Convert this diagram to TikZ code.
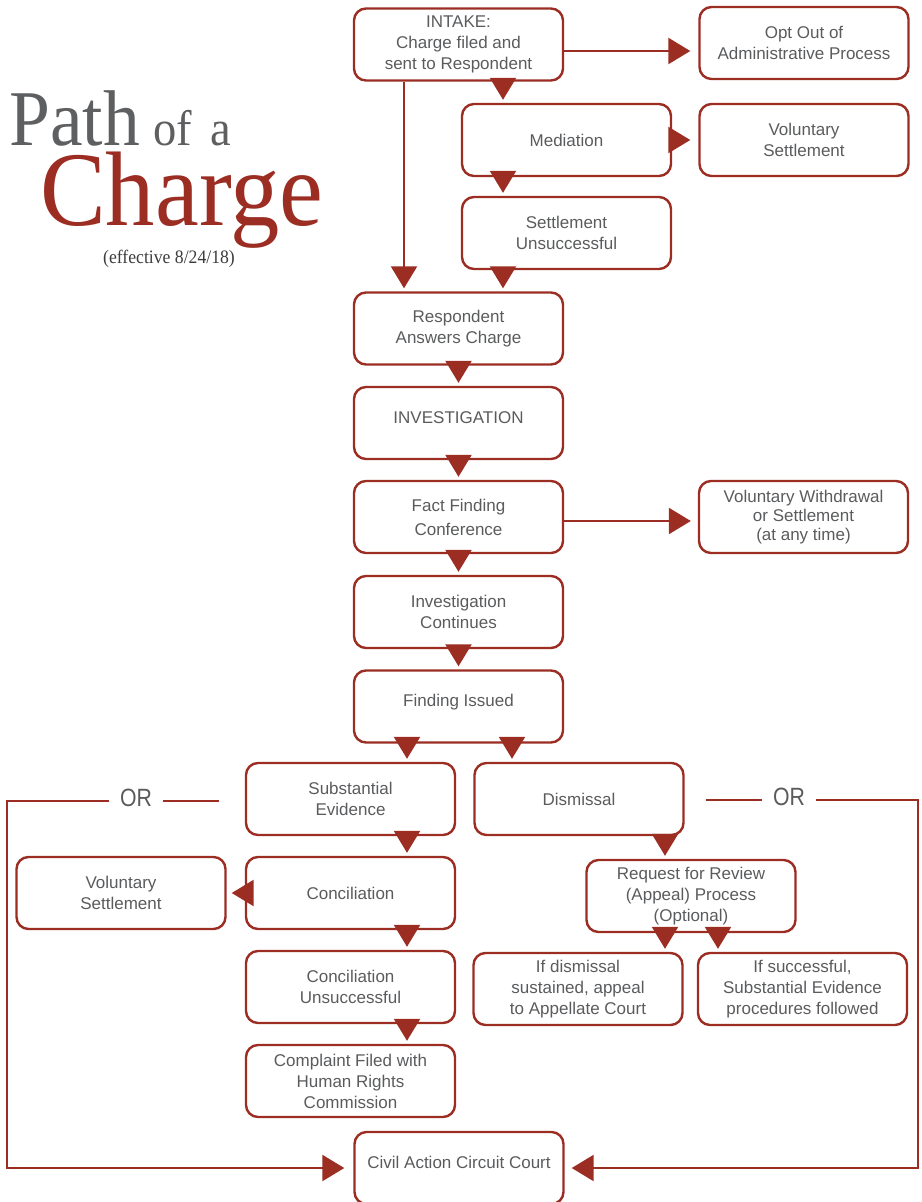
\documentclass[tikz,border=0pt]{standalone}
\usepackage{fontspec}
\setmainfont{Liberation Sans}
\newfontfamily\titlefont{Liberation Serif}[FakeStretch=0.93]
\newfontfamily\orfont{Liberation Sans}[FakeStretch=0.85]
\usetikzlibrary{arrows.meta}
\definecolor{cred}{HTML}{9B2D23}
\definecolor{cgray}{HTML}{5A5B5D}
\definecolor{tgray}{HTML}{5E5F61}
\definecolor{dgray}{HTML}{3C3C3C}
\begin{document}
\begin{tikzpicture}[x=1pt,y=-1pt,
  box/.style={draw=cred, line width=2.4pt, rounded corners=12pt, minimum width=209pt, minimum height=72pt, inner sep=0pt, align=center, text=cgray, font=\fontsize{17}{21}\selectfont},
  arr/.style={draw=cred, line width=2.4pt, -{Triangle[length=22pt,width=26pt]}, shorten >=3pt},
  ln/.style={draw=cred, line width=2.4pt},
  hi/.style={text height=12pt, text depth=12pt},
  ortext/.style={text=cgray, font=\orfont\fontsize{25}{25}\selectfont, inner xsep=11pt, inner ysep=0pt},
  ttl/.style={anchor=base west, inner sep=0pt}]
\useasboundingbox (0,0) rectangle (921,1202);

% title
\node[ttl, text=tgray, text depth=0pt, font=\titlefont\fontsize{79}{79}\selectfont] (path) at (9,145) {Path};
\node[ttl, text=tgray, text depth=0pt, font=\titlefont\fontsize{50}{50}\selectfont] (ofa) at (153,145) {of\hspace{19pt}a};
\node[ttl, text=cred, text height=74pt, font=\titlefont\fontsize{106}{106}\selectfont] (charge) at (40,225) {Charge};
\node[anchor=base, inner sep=0pt, text=dgray, font=\titlefont\fontsize{19}{19}\selectfont] (eff) at (169,263) {(effective 8/24/18)};

% boxes
\node[box] (intake) at (458.5,44.5) {INTAKE:\\Charge filed and\\sent to Respondent};
\node[box] (optout) at (804,43) {Opt Out of\\Administrative Process};
\node[box] (mediation) at (566.5,140) {Mediation};
\node[box] (volset1) at (804,140) {Voluntary\\Settlement};
\node[box] (setunsucc) at (566.5,233) {Settlement\\Unsuccessful};
\node[box] (respond) at (458.5,328.5) {Respondent\\Answers Charge};
\node[box,hi] (invest) at (458.5,423) {INVESTIGATION};
\node[box,font=\fontsize{17}{24}\selectfont] (fact) at (458.5,517) {Fact Finding\\Conference};
\node[box,font=\fontsize{17}{19}\selectfont] (volwith) at (803.5,517) {Voluntary Withdrawal\\or Settlement\\(at any time)};
\node[box] (contin) at (458.5,612) {Investigation\\Continues};
\node[box,hi] (finding) at (458.5,706.5) {Finding Issued};
\node[box] (subst) at (350.5,799) {Substantial\\Evidence};
\node[box] (dismiss) at (579,799) {Dismissal};
\node[box] (volset2) at (121,893) {Voluntary\\Settlement};
\node[box] (concil) at (350.5,893) {Conciliation};
\node[box] (review) at (691,896) {Request for Review\\(Appeal) Process\\(Optional)};
\node[box] (concunsucc) at (350.5,987) {Conciliation\\Unsuccessful};
\node[box] (ifdismiss) at (578,989) {If dismissal\\sustained, appeal\\to Appellate Court};
\node[box] (ifsucc) at (802.5,989) {If successful,\\Substantial Evidence\\procedures followed};
\node[box] (complaint) at (350.5,1081) {Complaint Filed with\\Human Rights\\Commission};
\node[box,hi] (civil) at (459,1168) {Civil Action Circuit Court};

% helper coordinates
\coordinate (xA) at (503,0);
\coordinate (xB) at (404,0);
\coordinate (xC) at (407,0);
\coordinate (xD) at (512,0);
\coordinate (xE) at (665,0);
\coordinate (xF) at (718,0);
\coordinate (yA) at (0,51);
\coordinate (yB) at (0,521);

% connectors
\draw[arr] (intake.south -| xA) -- (mediation.north -| xA);
\draw[arr] (intake.south -| xB) -- (respond.north -| xB);
\draw[arr, shorten >=8pt] (intake.east |- yA) -- (optout.west |- yA);
\draw[arr, shorten >=8pt] (mediation.east) -- (volset1.west);
\draw[arr] (mediation.south -| xA) -- (setunsucc.north -| xA);
\draw[arr] (setunsucc.south -| xA) -- (respond.north -| xA);
\draw[arr] (respond) -- (invest);
\draw[arr] (invest.south) -- (fact.north);
\draw[arr, shorten >=7pt] (fact.east |- yB) -- (volwith.west |- yB);
\draw[arr] (fact.south) -- (contin.north);
\draw[arr] (contin.south) -- (finding.north);
\draw[arr] (finding.south -| xC) -- (subst.north -| xC);
\draw[arr] (finding.south -| xD) -- (dismiss.north -| xD);
\draw[arr] (subst.south -| xC) -- (concil.north -| xC);
\draw[arr, shorten >=5pt] (concil.west) -- (volset2.east);
\draw[arr] (concil.south -| xC) -- (concunsucc.north -| xC);
\draw[arr] (concunsucc.south -| xC) -- (complaint.north -| xC);
\draw[arr] (dismiss.south -| xE) -- (review.north -| xE);
\draw[arr] (review.south -| xE) -- (ifdismiss.north -| xE);
\draw[arr] (review.south -| xF) -- (ifsucc.north -| xF);

% OR paths
\coordinate (lstart) at (219,801);
\coordinate (lcorner) at (7,801);
\node[ortext] (orL) at (136,798) {OR};
\draw[ln] (lstart) -- (orL.east |- lstart);
\draw[arr, shorten >=9pt] (orL.west |- lstart) -- (lcorner) |- (civil.west);

\coordinate (rstart) at (706,800);
\coordinate (rcorner) at (918,800);
\node[ortext] (orR) at (789,797) {OR};
\draw[ln] (rstart) -- (orR.west |- rstart);
\draw[arr, shorten >=7pt] (orR.east |- rstart) -- (rcorner) |- (civil.east);
\end{tikzpicture}
\end{document}
